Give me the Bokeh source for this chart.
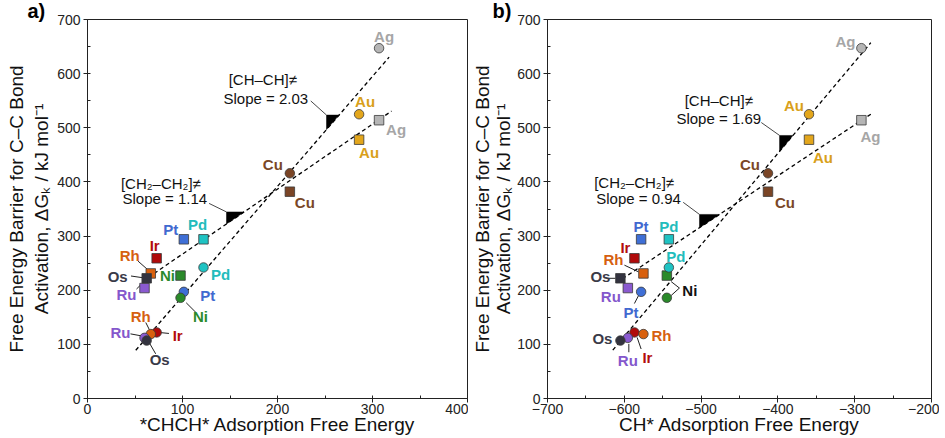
from bokeh.plotting import figure
from bokeh.models import (SingleIntervalTicker, CustomJSTickFormatter,
                          ColumnDataSource, Range1d)
from bokeh.layouts import row
from bokeh.embed import file_html
from bokeh.resources import INLINE
from bokeh.core.properties import value

# ---------------- data ----------------
metals = ["Ag", "Au", "Cu", "Pd", "Pt", "Ni", "Ir", "Rh", "Ru", "Os"]
chch_ads = [306.9, 285.9, 213.0, 122.1, 101.4, 97.9, 72.8, 66.6, 60.0, 62.3]      # panel a x
ch_ads = [-291.3, -359.5, -412.9, -542.0, -578.1, -544.6, -586.8, -575.1, -595.4, -605.1]  # panel b x
barrier_chch = [647, 525, 416, 242, 197, 186, 122, 119, 112, 107]      # [CH-CH]≠ (circles)
barrier_ch2ch2 = [514, 478, 382, 294, 294, 227, 259, 231, 204, 222]    # [CH2-CH2]≠ (squares)

# reported slopes (text) and drawn fit lines (slope, intercept)
slopes_a = [2.03, 1.14]
fit_slope_a = [2.03, 1.20]
fit_icpt_a = [-14.1, 146.8]
slopes_b = [1.69, 0.94]
fit_slope_b = [1.69, 0.94]
fit_icpt_b = [1128.7, 787.4]

x_ticks_a = [0, 100, 200, 300, 400]
x_ticks_b = [-700, -600, -500, -400, -300, -200]
y_ticks = [0, 100, 200, 300, 400, 500, 600, 700]

# ---------------- styles ----------------
FONT_NAME = "Liberation Sans"
FONT = value(FONT_NAME)
fill = {"Ag": "#b5b5b5", "Au": "#e3a61c", "Cu": "#7a4526", "Pd": "#1fc3c3", "Pt": "#3f6fd6",
        "Ni": "#2a8a2a", "Ir": "#b00a0a", "Rh": "#d8600e", "Ru": "#8a5ad0", "Os": "#33333f"}
lab = {"Ag": "#a6a6a6", "Au": "#d9a01a", "Cu": "#7a4727", "Pd": "#22bcbc", "Pt": "#4169d0",
       "Ni": "#2b8a2b", "Ir": "#b30c0c", "Rh": "#d6600f", "Ru": "#8457cc", "Os": "#3a3a48"}

# label pixel offsets (dx, dy; dy positive = down)
off_a_c = {"Ag": (5, -12), "Au": (6, -13), "Cu": (-17, -9), "Pd": (17, 7), "Pt": (24, 4),
           "Ni": (20, 19), "Ir": (21, 3), "Rh": (-10, -18), "Ru": (-24, -5), "Os": (13, 19)}
off_a_s = {"Ag": (17, 9), "Au": (10, 13), "Cu": (15, 11), "Pd": (-6, -15), "Pt": (-13, -10),
           "Ni": (-13, 0), "Ir": (-2, -13), "Rh": (-21, -18), "Ru": (-18, 6), "Os": (-29, -2)}
off_b_c = {"Ag": (-16, -7), "Au": (-15, -9), "Cu": (-18, -9), "Pd": (7, -11), "Pt": (-10, 21),
           "Ni": (23, -7), "Ir": (13, 25), "Rh": (18, 1), "Ru": (0, 23), "Os": (-18, -2)}
off_b_s = {"Ag": (9, 16), "Au": (14, 18), "Cu": (17, 11), "Pd": (0, -13), "Pt": (0, -13),
           "Ni": None, "Ir": (-9, -11), "Rh": (-30, -14), "Ru": (-17, 8), "Os": (-20, -2)}

# leader lines, pixel offsets relative to the point (kind, metal, (x0,y0),(x1,y1))
lead_a = [("s", "Rh", (-12.7, -12.3), (-3.3, -4)), ("s", "Os", (-15.7, -2.3), (-4, -0.6)),
          ("s", "Ru", (-8, 1), (-4, -3)),
          ("c", "Ni", (5.7, 5), (15.7, 15)), ("c", "Rh", (-5, -11.6), (-1.7, -5)),
          ("c", "Ru", (-14, -4), (-1.6, -1.7)), ("c", "Ir", (2.3, 0), (12.3, 1)),
          ("c", "Os", (2.3, 1.7), (9, 13.3))]
lead_b = [("s", "Rh", (-19, -8.3), (-5, -1.6)), ("s", "Os", (-14, 0), (-5, 0)),
          ("s", "Ni", (4.3, 6), (12.6, 12.5)), ("c", "Ni", (12.6, -9.8), (4.3, -2.3)),
          ("c", "Pt", (-2.7, 4), (-6.7, 11.7)), ("c", "Ru", (1, 6), (1, 14.4)),
          ("c", "Ir", (2.7, 5), (6.7, 16.6))]

FRAME_H = 380


def make_panel(xs, xr, slopes, fslopes, ficpts, line_x, tri_x, txt_pos, lead_txt,
               off_c, off_s, leaders, width, left, right, frame_w, tag, tag_off, label_x,
               ni_black=False, ylab_standoff=2, ylab_lh=1.2):
    p = figure(width=width, height=438, x_range=Range1d(*xr), y_range=Range1d(0, 700),
               output_backend="svg", toolbar_location=None,
               min_border_left=left, min_border_right=right, min_border_top=18,
               min_border_bottom=40)
    p.grid.visible = False
    p.outline_line_color = "#222222"
    p.outline_line_width = 1
    p.background_fill_color = "white"
    p.border_fill_color = "white"

    # panel tag as the plot title, pulled into the top-left corner
    p.title.text = tag
    p.title.align = "left"
    p.title.offset = tag_off
    p.title.standoff = -5
    p.title.text_font = FONT_NAME
    p.title.text_font_size = "20px"
    p.title.text_font_style = "bold"
    p.title.text_color = "black"

    ux = (xr[1] - xr[0]) / frame_w
    uy = 700 / FRAME_H

    # fitted lines + slope triangles
    for k in range(2):
        m, b = fslopes[k], ficpts[k]
        x0, x1 = line_x[k]
        p.line([x0, x1], [m * x0 + b, m * x1 + b], line_color="black", line_width=1.3,
               line_dash="4 3")
        t0, t1 = tri_x[k]
        p.patch([t0, t0, t1], [m * t0 + b, m * t1 + b, m * t1 + b], fill_color="black",
                line_color="black", line_width=0.5)
        (hx, hy), (sx_, sy_) = txt_pos[k]
        head = "[CH–CH]≠" if k == 0 else "[CH₂–CH₂]≠"
        p.text([hx], [hy], text=[head], text_font=FONT, text_font_size="15px",
               text_align="center", text_baseline="middle", text_color="#111111")
        p.text([sx_], [sy_], text=[f"Slope = {slopes[k]:.2f}"], text_font=FONT,
               text_font_size="15px", text_align="center", text_baseline="middle",
               text_color="#111111")
        lx0, ly0 = lead_txt[k]
        p.line([lx0, t0], [ly0, m * t1 + b], line_color="#333333", line_width=0.9)

    ys = {"c": barrier_chch, "s": barrier_ch2ch2}
    for kind, metal, (a0, b0), (a1, b1) in leaders:
        i = metals.index(metal)
        px, py = xs[i], ys[kind][i]
        p.line([px + a0 * ux, px + a1 * ux], [py - b0 * uy, py - b1 * uy],
               line_color="#222222", line_width=1)

    for kind, marker, offs in (("s", "square", off_s), ("c", "circle", off_c)):
        src = ColumnDataSource(dict(x=xs, y=ys[kind], m=metals,
                                    fc=[fill[mm] for mm in metals]))
        p.scatter("x", "y", source=src, marker=marker, size=9.5, fill_color="fc",
                  line_color="#3a3a3a", line_width=0.8)
        lx, ly, lt, lc, ox, oy = [], [], [], [], [], []
        for i, mm in enumerate(metals):
            if offs[mm] is None:
                continue
            lx.append(xs[i]); ly.append(ys[kind][i]); lt.append(mm)
            col = lab[mm]
            if ni_black and mm == "Ni":
                col = "#111111"
            lc.append(col)
            ox.append(offs[mm][0]); oy.append(offs[mm][1])
        lsrc = ColumnDataSource(dict(x=lx, y=ly, t=lt, c=lc, ox=ox, oy=oy))
        p.text("x", "y", text="t", source=lsrc, x_offset="ox", y_offset="oy",
               text_color="c", text_font=FONT, text_font_style="bold",
               text_font_size="15px", text_align="center", text_baseline="middle")

    for ax in (p.xaxis, p.yaxis):
        ax.ticker = SingleIntervalTicker(interval=100, num_minor_ticks=2)
        ax.axis_line_color = "#222222"
        ax.major_tick_line_color = "#222222"
        ax.minor_tick_line_color = "#222222"
        ax.major_tick_out = 4
        ax.major_tick_in = 0
        ax.minor_tick_out = 0
        ax.minor_tick_in = 3
        ax.major_label_text_font = FONT_NAME
        ax.major_label_text_font_size = "14px"
        ax.major_label_text_color = "#222222"
        ax.axis_label_text_font = FONT_NAME
        ax.axis_label_text_font_size = "19px"
        ax.axis_label_text_font_style = "normal"
        ax.axis_label_text_color = "#111111"
    p.xaxis.formatter = CustomJSTickFormatter(
        code="return tick < 0 ? '\u2212' + Math.abs(tick) : String(tick);")
    p.xaxis.major_label_standoff = 1
    p.xaxis.axis_label_standoff = -3
    p.yaxis.major_label_standoff = 3
    p.yaxis.axis_label_standoff = ylab_standoff
    p.yaxis.axis_label_text_line_height = ylab_lh
    p.xaxis.axis_label = label_x
    p.yaxis.axis_label = "Free Energy Barrier for C–C Bond\nActivation, ΔGₖ / kJ mol⁻¹"
    return p


pa = make_panel(chch_ads, (0, 400), slopes_a, fit_slope_a, fit_icpt_a,
                line_x=[(50.8, 317.5), (58, 320)],
                tri_x=[(251.6, 264.8), (146.3, 164.8)],
                txt_pos=[((184.5, 588.8), (187.7, 553.9)), ((77.2, 397.6), (81.4, 370))],
                lead_txt=[(235, 549.6), (128, 360.3)],
                off_c=off_a_c, off_s=off_a_s, leaders=lead_a,
                width=468, left=87, right=1, frame_w=380, tag="a)", tag_off=-60,
                label_x="*CHCH* Adsorption Free Energy")
pb = make_panel(ch_ads, (-700, -200), slopes_b, fit_slope_b, fit_icpt_b,
                line_x=[(-615, -279), (-610, -279)],
                tri_x=[(-397.8, -380.4), (-502.1, -476)],
                txt_pos=[((-477, 549.6), (-477, 516.5)), ((-587.2, 399.4), (-581.4, 369.5))],
                lead_txt=[(-421.6, 509.7), (-523.3, 362.3)],
                off_c=off_b_c, off_s=off_b_s, leaders=lead_b,
                width=471, left=79, right=8, frame_w=384, tag="b)", tag_off=-55,
                label_x="CH* Adsorption Free Energy", ni_black=True, ylab_standoff=0,
                ylab_lh=1.0)

layout = row(pa, pb)
open("out.html", "w").write(file_html(layout, INLINE))
